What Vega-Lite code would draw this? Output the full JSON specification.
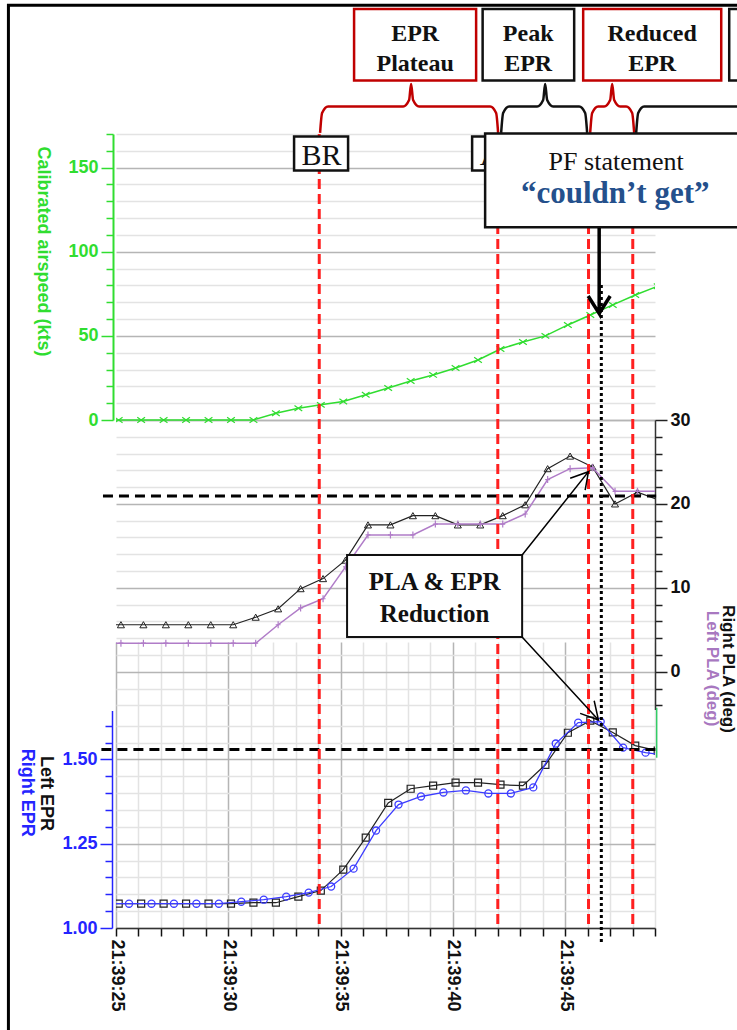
{
  "$schema": "https://vega.github.io/schema/vega-lite/v6.json",
  "width": 539,
  "height": 794,
  "autosize": {"type": "none"},
  "padding": {"left": 116, "top": 134, "right": 82, "bottom": 102},
  "background": "white",
  "config": {"view": {"stroke": null}, "font": "Liberation Sans"},
  "datasets": {
    "airspeed": [
      {"t": 24.12, "v": 0}, {"t": 25.12, "v": 0}, {"t": 26.12, "v": 0}, {"t": 27.12, "v": 0}, {"t": 28.12, "v": 0},
      {"t": 29.12, "v": 0}, {"t": 30.12, "v": 0}, {"t": 31.12, "v": 0}, {"t": 32.12, "v": 4}, {"t": 33.12, "v": 7},
      {"t": 34.12, "v": 9}, {"t": 35.12, "v": 11}, {"t": 36.12, "v": 15}, {"t": 37.12, "v": 19}, {"t": 38.12, "v": 23.2},
      {"t": 39.12, "v": 26.8}, {"t": 40.12, "v": 30.9}, {"t": 41.12, "v": 35.7}, {"t": 42.12, "v": 42.2}, {"t": 43.12, "v": 46.4},
      {"t": 44.12, "v": 50}, {"t": 45.12, "v": 56.5}, {"t": 46.12, "v": 62.4}, {"t": 47.12, "v": 68.4}, {"t": 48.12, "v": 74.3},
      {"t": 49.12, "v": 79.5}
    ],
    "pla": [
      {"series": "Right PLA", "t": 24.22, "v": 5.6}, {"series": "Right PLA", "t": 25.22, "v": 5.6}, {"series": "Right PLA", "t": 26.22, "v": 5.6},
      {"series": "Right PLA", "t": 27.22, "v": 5.6}, {"series": "Right PLA", "t": 28.22, "v": 5.6}, {"series": "Right PLA", "t": 29.22, "v": 5.6},
      {"series": "Right PLA", "t": 30.22, "v": 5.6}, {"series": "Right PLA", "t": 31.22, "v": 6.5}, {"series": "Right PLA", "t": 32.22, "v": 7.5},
      {"series": "Right PLA", "t": 33.22, "v": 9.9}, {"series": "Right PLA", "t": 34.22, "v": 11.1}, {"series": "Right PLA", "t": 35.22, "v": 13.3},
      {"series": "Right PLA", "t": 36.22, "v": 17.5}, {"series": "Right PLA", "t": 37.22, "v": 17.5}, {"series": "Right PLA", "t": 38.22, "v": 18.6},
      {"series": "Right PLA", "t": 39.22, "v": 18.6}, {"series": "Right PLA", "t": 40.22, "v": 17.5}, {"series": "Right PLA", "t": 41.22, "v": 17.5},
      {"series": "Right PLA", "t": 42.22, "v": 18.6}, {"series": "Right PLA", "t": 43.22, "v": 19.9}, {"series": "Right PLA", "t": 44.22, "v": 24.2},
      {"series": "Right PLA", "t": 45.22, "v": 25.7}, {"series": "Right PLA", "t": 46.22, "v": 24.4}, {"series": "Right PLA", "t": 47.22, "v": 20.0},
      {"series": "Right PLA", "t": 48.22, "v": 21.4}, {"series": "Right PLA", "t": 49.22, "v": 20.4},
      {"series": "Left PLA", "t": 24.22, "v": 3.4}, {"series": "Left PLA", "t": 25.22, "v": 3.4}, {"series": "Left PLA", "t": 26.22, "v": 3.4},
      {"series": "Left PLA", "t": 27.22, "v": 3.4}, {"series": "Left PLA", "t": 28.22, "v": 3.4}, {"series": "Left PLA", "t": 29.22, "v": 3.4},
      {"series": "Left PLA", "t": 30.22, "v": 3.4}, {"series": "Left PLA", "t": 31.22, "v": 3.4}, {"series": "Left PLA", "t": 32.22, "v": 5.6},
      {"series": "Left PLA", "t": 33.22, "v": 7.6}, {"series": "Left PLA", "t": 34.22, "v": 8.7}, {"series": "Left PLA", "t": 35.22, "v": 12.5},
      {"series": "Left PLA", "t": 36.22, "v": 16.3}, {"series": "Left PLA", "t": 37.22, "v": 16.3}, {"series": "Left PLA", "t": 38.22, "v": 16.3},
      {"series": "Left PLA", "t": 39.22, "v": 17.6}, {"series": "Left PLA", "t": 40.22, "v": 17.6}, {"series": "Left PLA", "t": 41.22, "v": 17.6},
      {"series": "Left PLA", "t": 42.22, "v": 17.6}, {"series": "Left PLA", "t": 43.22, "v": 18.8}, {"series": "Left PLA", "t": 44.22, "v": 22.9},
      {"series": "Left PLA", "t": 45.22, "v": 24.2}, {"series": "Left PLA", "t": 46.22, "v": 24.3}, {"series": "Left PLA", "t": 47.22, "v": 21.5},
      {"series": "Left PLA", "t": 48.22, "v": 21.5}, {"series": "Left PLA", "t": 49.22, "v": 21.5}
    ],
    "epr": [
      {"series": "Left EPR", "t": 24.12, "v": 1.072}, {"series": "Left EPR", "t": 25.12, "v": 1.072}, {"series": "Left EPR", "t": 26.12, "v": 1.072},
      {"series": "Left EPR", "t": 27.12, "v": 1.072}, {"series": "Left EPR", "t": 28.12, "v": 1.072}, {"series": "Left EPR", "t": 29.12, "v": 1.072},
      {"series": "Left EPR", "t": 30.12, "v": 1.072}, {"series": "Left EPR", "t": 31.12, "v": 1.075}, {"series": "Left EPR", "t": 32.12, "v": 1.075},
      {"series": "Left EPR", "t": 33.12, "v": 1.093}, {"series": "Left EPR", "t": 34.12, "v": 1.111}, {"series": "Left EPR", "t": 35.12, "v": 1.173},
      {"series": "Left EPR", "t": 36.12, "v": 1.268}, {"series": "Left EPR", "t": 37.12, "v": 1.371}, {"series": "Left EPR", "t": 38.12, "v": 1.413},
      {"series": "Left EPR", "t": 39.12, "v": 1.422}, {"series": "Left EPR", "t": 40.12, "v": 1.431}, {"series": "Left EPR", "t": 41.12, "v": 1.431},
      {"series": "Left EPR", "t": 42.12, "v": 1.425}, {"series": "Left EPR", "t": 43.12, "v": 1.422}, {"series": "Left EPR", "t": 44.12, "v": 1.484},
      {"series": "Left EPR", "t": 45.12, "v": 1.579}, {"series": "Left EPR", "t": 46.12, "v": 1.615}, {"series": "Left EPR", "t": 47.12, "v": 1.58},
      {"series": "Left EPR", "t": 48.12, "v": 1.541}, {"series": "Left EPR", "t": 49.12, "v": 1.526},
      {"series": "Right EPR", "t": 24.58, "v": 1.072}, {"series": "Right EPR", "t": 25.58, "v": 1.072}, {"series": "Right EPR", "t": 26.58, "v": 1.072},
      {"series": "Right EPR", "t": 27.58, "v": 1.072}, {"series": "Right EPR", "t": 28.58, "v": 1.072}, {"series": "Right EPR", "t": 29.58, "v": 1.072},
      {"series": "Right EPR", "t": 30.58, "v": 1.078}, {"series": "Right EPR", "t": 31.58, "v": 1.084}, {"series": "Right EPR", "t": 32.58, "v": 1.093},
      {"series": "Right EPR", "t": 33.58, "v": 1.105}, {"series": "Right EPR", "t": 34.58, "v": 1.123}, {"series": "Right EPR", "t": 35.58, "v": 1.176},
      {"series": "Right EPR", "t": 36.58, "v": 1.289}, {"series": "Right EPR", "t": 37.58, "v": 1.366}, {"series": "Right EPR", "t": 38.58, "v": 1.39},
      {"series": "Right EPR", "t": 39.58, "v": 1.402}, {"series": "Right EPR", "t": 40.58, "v": 1.408}, {"series": "Right EPR", "t": 41.58, "v": 1.399},
      {"series": "Right EPR", "t": 42.58, "v": 1.399}, {"series": "Right EPR", "t": 43.58, "v": 1.417}, {"series": "Right EPR", "t": 44.58, "v": 1.547},
      {"series": "Right EPR", "t": 45.58, "v": 1.609}, {"series": "Right EPR", "t": 46.58, "v": 1.612}, {"series": "Right EPR", "t": 47.58, "v": 1.535},
      {"series": "Right EPR", "t": 48.58, "v": 1.52}, {"series": "Right EPR", "t": 49.58, "v": 1.512}
    ],
    "frame": [{"t": 20.21, "t2": 60, "v": 246.55, "v2": -400}],
    "thresholds": [
      {"panel": "PLA", "t": 24.42, "t2": 49.05, "v": 20.94},
      {"panel": "EPR", "t": 24.35, "t2": 49.05, "v": 1.529}
    ],
    "events": [{"t": 34.05, "event": "BR"}, {"t": 42.0, "event": "AT"}, {"t": 46.04, "event": "EPR reduced"}, {"t": 48.01, "event": "next"}],
    "pfTime": [{"t": 46.61, "v": 80.3, "v2": -312}],
    "greenSeg": [{"t": 49.075, "v": 1.653, "v2": 1.505}],
    "braces": [
      {"phase": "EPR Plateau", "i": 1, "t": 34.087, "v": 170.63}, {"phase": "EPR Plateau", "i": 2, "t": 34.176, "v": 182.52},
      {"phase": "EPR Plateau", "i": 3, "t": 34.443, "v": 186.39}, {"phase": "EPR Plateau", "i": 4, "t": 37.784, "v": 186.39},
      {"phase": "EPR Plateau", "i": 5, "t": 38.051, "v": 190.25}, {"phase": "EPR Plateau", "i": 6, "t": 38.14, "v": 199.76},
      {"phase": "EPR Plateau", "i": 7, "t": 38.229, "v": 190.25}, {"phase": "EPR Plateau", "i": 8, "t": 38.496, "v": 186.39},
      {"phase": "EPR Plateau", "i": 9, "t": 41.659, "v": 186.39}, {"phase": "EPR Plateau", "i": 10, "t": 41.926, "v": 182.52},
      {"phase": "EPR Plateau", "i": 11, "t": 42.015, "v": 170.63},
      {"phase": "Peak EPR", "i": 1, "t": 42.149, "v": 170.63}, {"phase": "Peak EPR", "i": 2, "t": 42.238, "v": 182.52},
      {"phase": "Peak EPR", "i": 3, "t": 42.505, "v": 186.39}, {"phase": "Peak EPR", "i": 4, "t": 43.753, "v": 186.39},
      {"phase": "Peak EPR", "i": 5, "t": 44.02, "v": 190.25}, {"phase": "Peak EPR", "i": 6, "t": 44.109, "v": 199.76},
      {"phase": "Peak EPR", "i": 7, "t": 44.198, "v": 190.25}, {"phase": "Peak EPR", "i": 8, "t": 44.465, "v": 186.39},
      {"phase": "Peak EPR", "i": 9, "t": 45.623, "v": 186.39}, {"phase": "Peak EPR", "i": 10, "t": 45.89, "v": 182.52},
      {"phase": "Peak EPR", "i": 11, "t": 45.979, "v": 170.63},
      {"phase": "Reduced EPR", "i": 1, "t": 46.113, "v": 170.63}, {"phase": "Reduced EPR", "i": 2, "t": 46.202, "v": 182.52},
      {"phase": "Reduced EPR", "i": 3, "t": 46.47, "v": 186.39}, {"phase": "Reduced EPR", "i": 4, "t": 46.737, "v": 186.39},
      {"phase": "Reduced EPR", "i": 5, "t": 47.004, "v": 190.25}, {"phase": "Reduced EPR", "i": 6, "t": 47.093, "v": 199.76},
      {"phase": "Reduced EPR", "i": 7, "t": 47.182, "v": 190.25}, {"phase": "Reduced EPR", "i": 8, "t": 47.449, "v": 186.39},
      {"phase": "Reduced EPR", "i": 9, "t": 47.717, "v": 186.39}, {"phase": "Reduced EPR", "i": 10, "t": 47.983, "v": 182.52},
      {"phase": "Reduced EPR", "i": 11, "t": 48.073, "v": 170.63},
      {"phase": "Next phase", "i": 1, "t": 48.162, "v": 170.63}, {"phase": "Next phase", "i": 2, "t": 48.251, "v": 182.52},
      {"phase": "Next phase", "i": 3, "t": 48.518, "v": 186.39}, {"phase": "Next phase", "i": 4, "t": 54.5, "v": 186.39},
      {"phase": "Next phase", "i": 5, "t": 54.8, "v": 190.25}, {"phase": "Next phase", "i": 6, "t": 54.9, "v": 199.76}
    ],
    "phaseBoxes": [
      {"phase": "EPR Plateau", "t": 35.601, "t2": 41.035, "v": 244.35, "v2": 201.84},
      {"phase": "Peak EPR", "t": 41.325, "t2": 45.401, "v": 244.35, "v2": 201.84},
      {"phase": "Reduced EPR", "t": 45.802, "t2": 51.949, "v": 244.35, "v2": 201.84},
      {"phase": "Next phase", "t": 52.305, "t2": 55.47, "v": 244.35, "v2": 201.84}
    ],
    "phaseLabels": [
      {"t": 38.32, "v": 225.33, "text": "EPR\nPlateau"},
      {"t": 43.352, "v": 225.33, "text": "Peak\nEPR"},
      {"t": 48.875, "v": 225.33, "text": "Reduced\nEPR"}
    ],
    "eventBoxes": [
      {"event": "BR", "t": 32.929, "t2": 35.334, "v": 168.55, "v2": 148.34},
      {"event": "AT", "t": 40.857, "t2": 43.174, "v": 168.55, "v2": 148.34}
    ],
    "eventLabels": [
      {"event": "BR", "t": 34.15, "v": 151.6},
      {"event": "AT", "t": 42.015, "v": 151.6}
    ],
    "pfBox": [{"t": 41.436, "t2": 60, "v": 170.33, "v2": 114.57}],
    "pfText1": [{"t": 47.27, "v": 148.63, "text": "PF statement"}],
    "pfText2": [{"t": 47.227, "v": 128.84, "text": "“couldn’t get”"}],
    "pfArrow": [
      {"i": 1, "t": 46.514, "v": 114.15}, {"i": 2, "t": 46.514, "v": 63.32},
      {"i": 3, "t": 46.024, "v": 73.72}, {"i": 4, "t": 46.514, "v": 63.32},
      {"i": 5, "t": 47.004, "v": 73.72}
    ],
    "plaBox": [{"t": 35.289, "t2": 43.084, "v": 13.909, "v2": 4.136}],
    "plaText": [{"t": 39.187, "v": 9.738, "text": "PLA & EPR\nReduction"}],
    "plaArrows": [
      {"arrow": "PLA", "i": 1, "t": 43.084, "v": 13.909}, {"arrow": "PLA", "i": 2, "t": 46.037, "v": 23.838},
      {"arrow": "PLA", "i": 3, "t": 45.223, "v": 23.051}, {"arrow": "PLA", "i": 4, "t": 46.037, "v": 23.838},
      {"arrow": "PLA", "i": 5, "t": 45.89, "v": 21.657},
      {"arrow": "EPR", "i": 1, "t": 43.071, "v": 4.172}, {"arrow": "EPR", "i": 2, "t": 46.483, "v": -5.757},
      {"arrow": "EPR", "i": 3, "t": 45.668, "v": -4.958}, {"arrow": "EPR", "i": 4, "t": 46.483, "v": -5.757},
      {"arrow": "EPR", "i": 5, "t": 46.292, "v": -3.457}
    ],
    "leftPlaTitle": [{"t": 51.548, "v": 0.381, "text": "Left PLA (deg)"}],
    "rightEprTitle": [{"t": 21.036, "v": 1.4012, "text": "Right EPR"}]
  },
  "encoding": {
    "x": {
      "field": "t",
      "type": "quantitative",
      "scale": {"domain": [25, 49], "nice": false, "zero": false},
      "axis": {
        "values": [25, 26, 27, 28, 29, 30, 31, 32, 33, 34, 35, 36, 37, 38, 39, 40, 41, 42, 43, 44, 45, 46, 47, 48, 49],
        "labelExpr": "datum.value % 5 === 0 ? '21:39:' + datum.value : ''",
        "labelAngle": 90,
        "labelAlign": "left",
        "labelBaseline": "middle",
        "labelFont": "Liberation Sans",
        "labelFontSize": 18,
        "labelFontWeight": "bold",
        "labelColor": "#111111",
        "labelPadding": 3,
        "labelOverlap": false,
        "labelFlush": false,
        "labelBound": false,
        "tickSize": 8,
        "tickColor": "#111111",
        "tickWidth": 1.5,
        "domainColor": "#333333",
        "domainWidth": 1.5,
        "grid": true,
        "gridColor": {"condition": {"test": "datum.value % 5 === 0", "value": "#b5b5b5"}, "value": "#e3e3e3"},
        "gridWidth": 1.5,
        "title": null
      }
    }
  },
  "layer": [
    {
      "data": {"name": "frame"},
      "mark": {"type": "rect", "filled": false, "color": "#000000", "strokeWidth": 3},
      "encoding": {
        "x2": {"field": "t2"},
        "y": {"field": "v", "type": "quantitative", "scale": {"domain": [0, 170], "range": [286, 0], "nice": false, "zero": false}, "axis": null},
        "y2": {"field": "v2"}
      }
    },
    {
      "data": {"name": "airspeed"},
      "mark": {"type": "line", "color": "#30dd30", "strokeWidth": 1.5, "clip": true,
        "point": {"shape": "M-1,-0.7L1,0.7M-1,0.7L1,-0.7", "filled": false, "size": 60, "strokeWidth": 1.2, "color": "#30dd30", "clip": true}},
      "encoding": {
        "y": {
          "field": "v", "type": "quantitative",
          "scale": {"domain": [0, 170], "range": [286, 0], "nice": false, "zero": false},
          "axis": {
            "orient": "left", "offset": 3,
            "values": [0, 10, 20, 30, 40, 50, 60, 70, 80, 90, 100, 110, 120, 130, 140, 150, 160, 170],
            "labelExpr": "datum.value % 50 === 0 ? datum.label : ''",
            "tickSize": {"condition": {"test": "datum.value % 50 === 0", "value": 12}, "value": 7},
            "tickColor": "#30dd30", "tickWidth": 1.5,
            "domainColor": "#30dd30", "domainWidth": 2,
            "labelColor": "#30dd30", "labelFont": "Liberation Sans", "labelFontSize": 18, "labelFontWeight": "bold",
            "labelPadding": 3, "labelOverlap": false, "labelFlush": false, "labelBound": false,
            "grid": true,
            "gridColor": {"condition": {"test": "datum.value % 50 === 0", "value": "#b5b5b5"}, "value": "#e3e3e3"},
            "gridWidth": 1.5,
            "title": "Calibrated airspeed (kts)",
            "titleColor": "#30dd30", "titleFont": "Liberation Sans", "titleFontSize": 18, "titleFontWeight": "bold",
            "titleAngle": 90, "titleX": -71, "titleY": 117, "titleAlign": "center", "titleBaseline": "middle"
          }
        }
      }
    },
    {
      "data": {"name": "pla"},
      "transform": [{"filter": "datum.series === 'Right PLA'"}],
      "mark": {"type": "line", "color": "#222222", "strokeWidth": 1.2, "clip": true,
        "point": {"shape": "triangle-up", "filled": false, "size": 50, "strokeWidth": 1, "color": "#222222", "clip": true}},
      "encoding": {
        "y": {
          "field": "v", "type": "quantitative",
          "scale": {"domain": [-4.5, 30], "range": [575.5, 286], "nice": false, "zero": false},
          "axis": {
            "orient": "right",
            "values": [-4, -2, 0, 2, 4, 6, 8, 10, 12, 14, 16, 18, 20, 22, 24, 26, 28, 30],
            "labelExpr": "datum.value % 10 === 0 ? datum.label : ''",
            "tickSize": {"condition": {"test": "datum.value % 10 === 0", "value": 12}, "value": 7},
            "tickColor": "#222222", "tickWidth": 1.5,
            "domainColor": "#333333", "domainWidth": 1.5,
            "labelColor": "#111111", "labelFont": "Liberation Sans", "labelFontSize": 18, "labelFontWeight": "bold",
            "labelPadding": 3, "labelOverlap": false, "labelFlush": false, "labelBound": false,
            "grid": true,
            "gridColor": {"condition": {"test": "datum.value % 10 === 0", "value": "#b5b5b5"}, "value": "#e3e3e3"},
            "gridWidth": 1.5,
            "title": "Right PLA (deg)",
            "titleColor": "#111111", "titleFont": "Liberation Sans", "titleFontSize": 17, "titleFontWeight": "bold",
            "titleAngle": 90, "titleX": 72, "titleY": 534.5, "titleAlign": "center", "titleBaseline": "middle"
          }
        }
      }
    },
    {
      "data": {"name": "pla"},
      "transform": [{"filter": "datum.series === 'Left PLA'"}],
      "mark": {"type": "line", "color": "#b07cc8", "strokeWidth": 1.5, "clip": true,
        "point": {"shape": "M0,-1L0,1M-0.7,0L0.7,0", "filled": false, "size": 50, "strokeWidth": 1.2, "color": "#b07cc8", "clip": true}},
      "encoding": {
        "y": {"field": "v", "type": "quantitative", "scale": {"domain": [-4.5, 30], "range": [575.5, 286], "nice": false, "zero": false}, "axis": null}
      }
    },
    {
      "data": {"name": "epr"},
      "transform": [{"filter": "datum.series === 'Left EPR'"}],
      "mark": {"type": "line", "color": "#222222", "strokeWidth": 1.2, "clip": true,
        "point": {"shape": "square", "filled": false, "size": 49, "strokeWidth": 1.2, "color": "#222222", "clip": true}},
      "encoding": {
        "y": {
          "field": "v", "type": "quantitative",
          "scale": {"domain": [1.0, 1.645], "range": [794, 576.5], "nice": false, "zero": false},
          "axis": {
            "orient": "left", "offset": 4,
            "values": [1, 1.05, 1.1, 1.15, 1.2, 1.25, 1.3, 1.35, 1.4, 1.45, 1.5, 1.55, 1.6],
            "labelExpr": "abs(datum.value * 4 - round(datum.value * 4)) < 0.001 ? format(datum.value, '.2f') : ''",
            "tickSize": {"condition": {"test": "abs(datum.value * 4 - round(datum.value * 4)) < 0.001", "value": 12}, "value": 7},
            "tickColor": "#2424ff", "tickWidth": 1.5,
            "domainColor": "#2424ff", "domainWidth": 1.5,
            "labelColor": "#2424ff", "labelFont": "Liberation Sans", "labelFontSize": 18, "labelFontWeight": "bold",
            "labelPadding": 3, "labelOverlap": false, "labelFlush": false, "labelBound": false,
            "grid": true,
            "gridColor": {"condition": {"test": "abs(datum.value * 4 - round(datum.value * 4)) < 0.001", "value": "#b5b5b5"}, "value": "#e3e3e3"},
            "gridWidth": 1.5,
            "title": "Left EPR",
            "titleColor": "#111111", "titleFont": "Liberation Sans", "titleFontSize": 18, "titleFontWeight": "bold",
            "titleAngle": 90, "titleX": -67, "titleY": 659, "titleAlign": "center", "titleBaseline": "middle"
          }
        }
      }
    },
    {
      "data": {"name": "epr"},
      "transform": [{"filter": "datum.series === 'Right EPR'"}],
      "mark": {"type": "line", "color": "#3c3cff", "strokeWidth": 1.3, "clip": true,
        "point": {"shape": "circle", "filled": false, "size": 50, "strokeWidth": 1.3, "color": "#3c3cff", "clip": true}},
      "encoding": {
        "y": {"field": "v", "type": "quantitative", "scale": {"domain": [1.0, 1.645], "range": [794, 576.5], "nice": false, "zero": false}, "axis": null}
      }
    },
    {
      "data": {"name": "thresholds"},
      "transform": [{"filter": "datum.panel === 'PLA'"}],
      "mark": {"type": "rule", "color": "#000000", "strokeWidth": 3, "strokeDash": [10, 6]},
      "encoding": {
        "x2": {"field": "t2"},
        "y": {"field": "v", "type": "quantitative", "scale": {"domain": [-4.5, 30], "range": [575.5, 286], "nice": false, "zero": false}, "axis": null}
      }
    },
    {
      "data": {"name": "thresholds"},
      "transform": [{"filter": "datum.panel === 'EPR'"}],
      "mark": {"type": "rule", "color": "#000000", "strokeWidth": 3, "strokeDash": [10, 6]},
      "encoding": {
        "x2": {"field": "t2"},
        "y": {"field": "v", "type": "quantitative", "scale": {"domain": [1.0, 1.645], "range": [794, 576.5], "nice": false, "zero": false}, "axis": null}
      }
    },
    {
      "data": {"name": "events"},
      "mark": {"type": "rule", "color": "#ff2020", "strokeWidth": 3, "strokeDash": [10, 5]},
      "encoding": {}
    },
    {
      "data": {"name": "pfTime"},
      "mark": {"type": "rule", "color": "#000000", "strokeWidth": 3, "strokeDash": [3, 3]},
      "encoding": {
        "y": {"field": "v", "type": "quantitative", "scale": {"domain": [0, 170], "range": [286, 0], "nice": false, "zero": false}, "axis": null},
        "y2": {"field": "v2"}
      }
    },
    {
      "data": {"name": "greenSeg"},
      "mark": {"type": "rule", "color": "#33cc66", "strokeWidth": 1.5},
      "encoding": {
        "y": {"field": "v", "type": "quantitative", "scale": {"domain": [1.0, 1.645], "range": [794, 576.5], "nice": false, "zero": false}, "axis": null},
        "y2": {"field": "v2"}
      }
    },
    {
      "data": {"name": "braces"},
      "mark": {"type": "line", "interpolate": "monotone", "strokeWidth": 2.5},
      "encoding": {
        "y": {"field": "v", "type": "quantitative", "scale": {"domain": [0, 170], "range": [286, 0], "nice": false, "zero": false}, "axis": null},
        "color": {"field": "phase", "type": "nominal", "scale": {"domain": ["EPR Plateau", "Peak EPR", "Reduced EPR", "Next phase"], "range": ["#c00000", "#111111", "#c00000", "#111111"]}, "legend": null},
        "order": {"field": "i", "type": "quantitative"}
      }
    },
    {
      "data": {"name": "phaseBoxes"},
      "mark": {"type": "rect", "fill": "#ffffff", "strokeWidth": 2.5},
      "encoding": {
        "x2": {"field": "t2"},
        "y": {"field": "v", "type": "quantitative", "scale": {"domain": [0, 170], "range": [286, 0], "nice": false, "zero": false}, "axis": null},
        "y2": {"field": "v2"},
        "stroke": {"field": "phase", "type": "nominal", "scale": {"domain": ["EPR Plateau", "Peak EPR", "Reduced EPR", "Next phase"], "range": ["#c00000", "#111111", "#c00000", "#111111"]}, "legend": null}
      }
    },
    {
      "data": {"name": "phaseLabels"},
      "mark": {"type": "text", "font": "Liberation Serif", "fontSize": 24, "fontWeight": "bold", "color": "#111111", "align": "center", "baseline": "alphabetic", "lineBreak": "\n", "lineHeight": 30},
      "encoding": {
        "y": {"field": "v", "type": "quantitative", "scale": {"domain": [0, 170], "range": [286, 0], "nice": false, "zero": false}, "axis": null},
        "text": {"field": "text", "type": "nominal"}
      }
    },
    {
      "data": {"name": "eventBoxes"},
      "mark": {"type": "rect", "fill": "#ffffff", "stroke": "#111111", "strokeWidth": 2.5},
      "encoding": {
        "x2": {"field": "t2"},
        "y": {"field": "v", "type": "quantitative", "scale": {"domain": [0, 170], "range": [286, 0], "nice": false, "zero": false}, "axis": null},
        "y2": {"field": "v2"}
      }
    },
    {
      "data": {"name": "eventLabels"},
      "mark": {"type": "text", "font": "Liberation Serif", "fontSize": 30, "color": "#111111", "align": "center", "baseline": "alphabetic"},
      "encoding": {
        "y": {"field": "v", "type": "quantitative", "scale": {"domain": [0, 170], "range": [286, 0], "nice": false, "zero": false}, "axis": null},
        "text": {"field": "event", "type": "nominal"}
      }
    },
    {
      "data": {"name": "pfBox"},
      "mark": {"type": "rect", "fill": "#ffffff", "stroke": "#111111", "strokeWidth": 2.5},
      "encoding": {
        "x2": {"field": "t2"},
        "y": {"field": "v", "type": "quantitative", "scale": {"domain": [0, 170], "range": [286, 0], "nice": false, "zero": false}, "axis": null},
        "y2": {"field": "v2"}
      }
    },
    {
      "data": {"name": "pfText1"},
      "mark": {"type": "text", "font": "Liberation Serif", "fontSize": 26, "color": "#111111", "align": "center", "baseline": "alphabetic"},
      "encoding": {
        "y": {"field": "v", "type": "quantitative", "scale": {"domain": [0, 170], "range": [286, 0], "nice": false, "zero": false}, "axis": null},
        "text": {"field": "text", "type": "nominal"}
      }
    },
    {
      "data": {"name": "pfText2"},
      "mark": {"type": "text", "font": "Liberation Serif", "fontSize": 31, "fontWeight": "bold", "color": "#24508c", "align": "center", "baseline": "alphabetic"},
      "encoding": {
        "y": {"field": "v", "type": "quantitative", "scale": {"domain": [0, 170], "range": [286, 0], "nice": false, "zero": false}, "axis": null},
        "text": {"field": "text", "type": "nominal"}
      }
    },
    {
      "data": {"name": "pfArrow"},
      "mark": {"type": "line", "color": "#000000", "strokeWidth": 3.5, "strokeJoin": "miter"},
      "encoding": {
        "y": {"field": "v", "type": "quantitative", "scale": {"domain": [0, 170], "range": [286, 0], "nice": false, "zero": false}, "axis": null},
        "order": {"field": "i", "type": "quantitative"}
      }
    },
    {
      "data": {"name": "plaBox"},
      "mark": {"type": "rect", "fill": "#ffffff", "stroke": "#111111", "strokeWidth": 2},
      "encoding": {
        "x2": {"field": "t2"},
        "y": {"field": "v", "type": "quantitative", "scale": {"domain": [-4.5, 30], "range": [575.5, 286], "nice": false, "zero": false}, "axis": null},
        "y2": {"field": "v2"}
      }
    },
    {
      "data": {"name": "plaText"},
      "mark": {"type": "text", "font": "Liberation Serif", "fontSize": 25, "fontWeight": "bold", "color": "#111111", "align": "center", "baseline": "alphabetic", "lineBreak": "\n", "lineHeight": 31.5},
      "encoding": {
        "y": {"field": "v", "type": "quantitative", "scale": {"domain": [-4.5, 30], "range": [575.5, 286], "nice": false, "zero": false}, "axis": null},
        "text": {"field": "text", "type": "nominal"}
      }
    },
    {
      "data": {"name": "plaArrows"},
      "mark": {"type": "line", "color": "#000000", "strokeWidth": 1.5},
      "encoding": {
        "y": {"field": "v", "type": "quantitative", "scale": {"domain": [-4.5, 30], "range": [575.5, 286], "nice": false, "zero": false}, "axis": null},
        "detail": {"field": "arrow", "type": "nominal"},
        "order": {"field": "i", "type": "quantitative"}
      }
    },
    {
      "data": {"name": "leftPlaTitle"},
      "mark": {"type": "text", "font": "Liberation Sans", "fontSize": 17, "fontWeight": "bold", "color": "#a878c0", "angle": 90, "align": "center", "baseline": "middle"},
      "encoding": {
        "y": {"field": "v", "type": "quantitative", "scale": {"domain": [-4.5, 30], "range": [575.5, 286], "nice": false, "zero": false}, "axis": null},
        "text": {"field": "text", "type": "nominal"}
      }
    },
    {
      "data": {"name": "rightEprTitle"},
      "mark": {"type": "text", "font": "Liberation Sans", "fontSize": 18, "fontWeight": "bold", "color": "#2424ff", "angle": 90, "align": "center", "baseline": "middle"},
      "encoding": {
        "y": {"field": "v", "type": "quantitative", "scale": {"domain": [1.0, 1.645], "range": [794, 576.5], "nice": false, "zero": false}, "axis": null},
        "text": {"field": "text", "type": "nominal"}
      }
    }
  ],
  "resolve": {"scale": {"y": "independent"}}
}
